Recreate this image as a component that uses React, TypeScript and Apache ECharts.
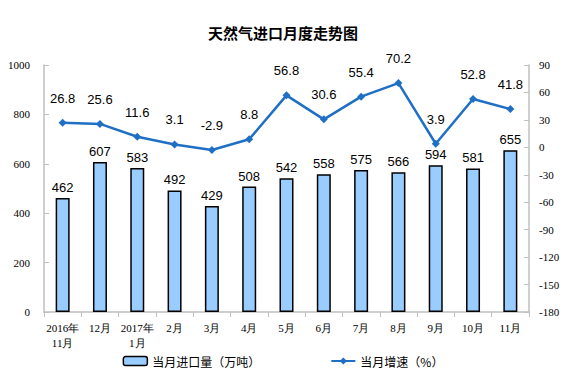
import React, { useEffect, useRef } from "react";
import * as echarts from "echarts";

const categories = ["2016年\n11月", "12月", "2017年\n1月", "2月", "3月", "4月", "5月", "6月", "7月", "8月", "9月", "10月", "11月"];
const importVolume = [462, 607, 583, 492, 429, 508, 542, 558, 575, 566, 594, 581, 655];
const growthRate = [26.8, 25.6, 11.6, 3.1, -2.9, 8.8, 56.8, 30.6, 55.4, 70.2, 3.9, 52.8, 41.8];
const seriesNames = ["当月进口量（万吨）", "当月增速（%）"];

export default function App() {
  const ref = useRef<HTMLDivElement>(null);
  useEffect(() => {
    if (!ref.current) return;
    const chart = echarts.init(ref.current, null, { renderer: "svg" });
    const serif = "'Liberation Serif', 'DejaVu Serif', serif";
    const sans = "'Liberation Sans', Arial, sans-serif";
    const axisLine = { show: true, lineStyle: { color: "#bfbfbf", width: 1.5 } };
    chart.setOption({
      animation: false,
      backgroundColor: "#ffffff",
      title: {
        text: "天然气进口月度走势图",
        left: "center",
        top: 20,
        textStyle: { fontSize: 15, fontWeight: "bold", color: "#000", fontFamily: "'Noto Sans CJK SC', sans-serif" },
      },
      legend: {
        bottom: 8,
        left: "center",
        itemGap: 70,
        itemWidth: 24,
        itemHeight: 9,
        textStyle: { fontFamily: "'Noto Sans CJK SC', serif", fontSize: 12, color: "#000" },
        data: [
          { name: seriesNames[0], itemStyle: { color: "#99ccff", borderColor: "#000", borderWidth: 1.5 } },
          { name: seriesNames[1] },
        ],
      },
      grid: { left: 44, right: 37, top: 65, bottom: 68 },
      xAxis: {
        type: "category",
        data: categories,
        axisLine,
        axisTick: { show: true, alignWithLabel: false, lineStyle: { color: "#bfbfbf" } },
        axisLabel: { interval: 0, color: "#000", fontSize: 11, fontFamily: serif, lineHeight: 15, margin: 8 },
      },
      yAxis: [
        {
          type: "value",
          min: 0,
          max: 1000,
          interval: 200,
          axisLine,
          axisTick: { show: true, inside: true, lineStyle: { color: "#bfbfbf" } },
          splitLine: { show: false },
          axisLabel: { color: "#000", fontSize: 11, fontFamily: serif, margin: 14, formatter: (v: number) => String(v) },
        },
        {
          type: "value",
          min: -180,
          max: 90,
          interval: 30,
          axisLine,
          axisTick: { show: true, inside: true, lineStyle: { color: "#bfbfbf" } },
          splitLine: { show: false },
          axisLabel: { color: "#000", fontSize: 11, fontFamily: serif, margin: 10, formatter: (v: number) => String(v) },
        },
      ],
      series: [
        {
          name: seriesNames[0],
          type: "bar",
          data: importVolume,
          barWidth: 14,
          itemStyle: { color: "#99ccff", borderColor: "#000", borderWidth: 1.5 },
          label: { show: true, position: "top", distance: 4, color: "#000", fontSize: 13, fontFamily: sans },
        },
        {
          name: seriesNames[1],
          type: "line",
          yAxisIndex: 1,
          data: growthRate,
          symbol: "diamond",
          symbolSize: 8,
          lineStyle: { color: "#1f6fc4", width: 2.5 },
          itemStyle: { color: "#1f6fc4" },
          label: { show: true, position: "top", distance: 14, color: "#000", fontSize: 13, fontFamily: sans },
        },
      ],
    });
    return () => chart.dispose();
  }, []);
  return <div ref={ref} style={{ width: 566, height: 380, position: "absolute", left: 0, top: 0 }} />;
}
